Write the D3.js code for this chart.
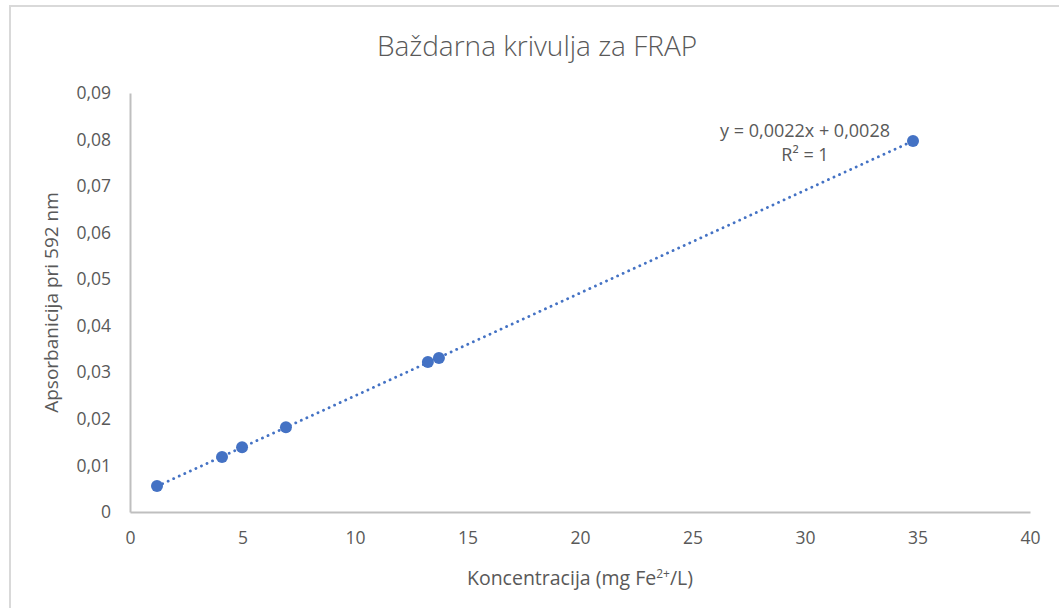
<!DOCTYPE html>
<html>
<head>
<meta charset="utf-8">
<script src="https://cdn.jsdelivr.net/npm/d3@7"></script>
<style>
  body { margin: 0; background: #fff; }
  text { font-family: "Open Sans", sans-serif; fill: #595959; }
</style>
</head>
<body>
<div id="chart"></div>
<script>
// Data
var concentration = [1.2, 4.09, 4.98, 6.93, 13.24, 13.73, 34.8];
var absorbance = [0.0056, 0.0118, 0.0139, 0.0182, 0.0322, 0.0331, 0.0797];
var xTicks = [0, 5, 10, 15, 20, 25, 30, 35, 40];
var yTicks = [0, 0.01, 0.02, 0.03, 0.04, 0.05, 0.06, 0.07, 0.08, 0.09];
var equationText = "y = 0,0022x + 0,0028";
var r2Text = "R² = 1";

var svgWidth = 1059;
var svgHeight = 608;
var margin = {top: 93, right: 29, bottom: 96, left: 130};
var chartWidth = svgWidth - margin.left - margin.right;
var chartHeight = svgHeight - margin.top - margin.bottom;

var svg = d3.select("#chart").append("svg")
    .attr("width", svgWidth)
    .attr("height", svgHeight);

// chart frame (only top and left edges are visible in the picture)
svg.append("line").attr("x1", 9).attr("x2", svgWidth).attr("y1", 6).attr("y2", 6)
    .attr("stroke", "#d9d9d9").attr("stroke-width", 2);
svg.append("line").attr("x1", 10).attr("x2", 10).attr("y1", 5).attr("y2", svgHeight)
    .attr("stroke", "#d9d9d9").attr("stroke-width", 2);

var chartGroup = svg.append("g")
    .attr("transform", `translate(${margin.left}, ${margin.top})`);

var xScale = d3.scaleLinear().domain([0, 40]).range([0, chartWidth]);
var yScale = d3.scaleLinear().domain([0, 0.09]).range([chartHeight, 0]);

var xAxis = d3.axisBottom(xScale).tickValues(xTicks).tickSize(0).tickPadding(20)
    .tickFormat(d => d);
var yAxis = d3.axisLeft(yScale).tickValues(yTicks).tickSize(0).tickPadding(19)
    .tickFormat(d => d === 0 ? "0" : d3.format(".2f")(d).replace(".", ","));

var gx = chartGroup.append("g")
    .attr("transform", `translate(0, ${chartHeight})`)
    .call(xAxis);
var gy = chartGroup.append("g").call(yAxis);

[gx, gy].forEach(function(g) {
    g.select(".domain").attr("stroke", "#bfbfbf").attr("stroke-width", 2);
    g.selectAll("text").style("font-size", "17.5px").attr("fill", "#595959");
});

// Trendline (least squares fit of the points)
var mx = d3.mean(concentration), my = d3.mean(absorbance);
var sxy = d3.sum(concentration, (x, i) => (x - mx) * (absorbance[i] - my));
var sxx = d3.sum(concentration, x => (x - mx) * (x - mx));
var slope = sxy / sxx;
var intercept = my - slope * mx;
var xMin = d3.min(concentration), xMax = d3.max(concentration);

chartGroup.append("line")
    .attr("x1", xScale(xMin)).attr("y1", yScale(slope * xMin + intercept))
    .attr("x2", xScale(xMax)).attr("y2", yScale(slope * xMax + intercept))
    .attr("stroke", "#4472c4")
    .attr("stroke-width", 2.8)
    .attr("stroke-linecap", "round")
    .attr("stroke-dasharray", "0.1 6");

// Points
chartGroup.append("g").selectAll("circle")
    .data(concentration)
    .enter()
    .append("circle")
    .attr("cx", d => xScale(d))
    .attr("cy", (d, i) => yScale(absorbance[i]))
    .attr("r", 6)
    .attr("fill", "#4472c4");

// Trendline label
chartGroup.append("text")
    .attr("x", 675).attr("y", 44)
    .attr("text-anchor", "middle")
    .style("font-size", "18px")
    .text(equationText);
chartGroup.append("text")
    .attr("x", 675).attr("y", 68)
    .attr("text-anchor", "middle")
    .style("font-size", "18px")
    .text(r2Text);

// Title
svg.append("text")
    .attr("x", 537).attr("y", 56)
    .attr("text-anchor", "middle")
    .style("font-size", "28px")
    .style("font-weight", "300")
    .text("Baždarna krivulja za FRAP");

// Axis labels
chartGroup.append("text")
    .attr("transform", `translate(-72, ${chartHeight / 2}) rotate(-90)`)
    .attr("text-anchor", "middle")
    .style("font-size", "19px")
    .text("Apsorbanicija pri 592 nm");

var xLabel = chartGroup.append("text")
    .attr("x", chartWidth / 2).attr("y", chartHeight + 73)
    .attr("text-anchor", "middle")
    .style("font-size", "19.5px");
xLabel.append("tspan").text("Koncentracija (mg Fe");
xLabel.append("tspan").attr("dy", -7).style("font-size", "12px").text("2+");
xLabel.append("tspan").attr("dy", 7).text("/L)");
</script>
</body>
</html>
